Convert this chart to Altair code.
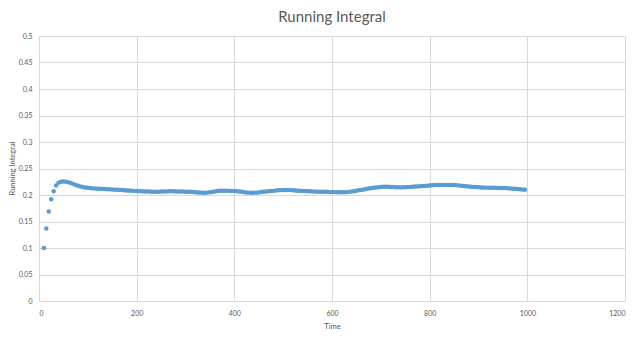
import altair as alt
import pandas as pd

time_start, time_step = 10, 5
running_integral = [
    0.100, 0.137, 0.169, 0.192, 0.207, 0.218, 0.223, 0.225, 0.2255, 0.225,
    0.224, 0.2225, 0.221, 0.219, 0.2175, 0.2162, 0.2152, 0.2143, 0.2136, 0.2130,
    0.2125, 0.2122, 0.2119, 0.2116, 0.2114, 0.2112, 0.2110, 0.2107, 0.2104, 0.2101,
    0.2098, 0.2095, 0.2093, 0.2090, 0.2087, 0.2084, 0.2081, 0.2078, 0.2075, 0.2073,
    0.2070, 0.2068, 0.2066, 0.2064, 0.2063, 0.2062, 0.2062, 0.2063, 0.2064, 0.2066,
    0.2068, 0.2070, 0.2070, 0.2069, 0.2068, 0.2067, 0.2066, 0.2065, 0.2063, 0.2062,
    0.2060, 0.2057, 0.2053, 0.2049, 0.2046, 0.2044, 0.2043, 0.2045, 0.2050, 0.2057,
    0.2066, 0.2074, 0.2080, 0.2082, 0.2082, 0.2080, 0.2078, 0.2076, 0.2075, 0.2071,
    0.2066, 0.2060, 0.2054, 0.2049, 0.2045, 0.2043, 0.2043, 0.2045, 0.2049, 0.2055,
    0.2061, 0.2066, 0.2070, 0.2074, 0.2078, 0.2083, 0.2088, 0.2092, 0.2094, 0.2095,
    0.2094, 0.2092, 0.2089, 0.2086, 0.2082, 0.2079, 0.2076, 0.2074, 0.2072, 0.2070,
    0.2067, 0.2065, 0.2063, 0.2062, 0.2062, 0.2061, 0.2060, 0.2058, 0.2056, 0.2054,
    0.2052, 0.2051, 0.2050, 0.2051, 0.2054, 0.2059, 0.2065, 0.2072, 0.2080, 0.2088,
    0.2096, 0.2105, 0.2113, 0.2121, 0.2128, 0.2135, 0.2142, 0.2148, 0.2153, 0.2156,
    0.2157, 0.2156, 0.2153, 0.2150, 0.2147, 0.2145, 0.2144, 0.2145, 0.2147, 0.2150,
    0.2153, 0.2156, 0.2159, 0.2162, 0.2165, 0.2168, 0.2172, 0.2176, 0.2180, 0.2184,
    0.2187, 0.2189, 0.2190, 0.2190, 0.2190, 0.2190, 0.2190, 0.2189, 0.2188, 0.2185,
    0.2181, 0.2176, 0.2170, 0.2165, 0.2160, 0.2156, 0.2152, 0.2149, 0.2146, 0.2143,
    0.2141, 0.2139, 0.2138, 0.2137, 0.2136, 0.2135, 0.2134, 0.2133, 0.2132, 0.2130,
    0.2127, 0.2124, 0.2120, 0.2116, 0.2112, 0.2108, 0.2104, 0.2100,
]
time = [time_start + time_step * i for i in range(len(running_integral))]

x_ticks = [0, 200, 400, 600, 800, 1000, 1200]
y_ticks = [0, 0.05, 0.1, 0.15, 0.2, 0.25, 0.3, 0.35, 0.4, 0.45, 0.5]

df = pd.DataFrame({"Time": time, "Running Integral": running_integral})

FONT = "Lato"
GREY = "#595959"
GRID = "#D9D9D9"

chart = (
    alt.Chart(df)
    .mark_circle(size=20, color="#5B9BD5", opacity=1)
    .encode(
        x=alt.X(
            "Time:Q",
            scale=alt.Scale(domain=[0, 1200], nice=False),
            axis=alt.Axis(
                values=x_ticks, format="d", title="Time", grid=True, gridColor=GRID,
                domain=True, domainColor=GRID, ticks=False, tickSize=0,
                labelPadding=8, labelFont=FONT, labelFontSize=7, labelColor=GREY,
                titleFont=FONT, titleFontSize=7.5, titleColor=GREY,
                titleFontWeight="normal", titleY=21, titleBaseline="top",
            ),
        ),
        y=alt.Y(
            "Running Integral:Q",
            scale=alt.Scale(domain=[0, 0.5], nice=False),
            axis=alt.Axis(
                values=y_ticks, format="~g", title="Running Integral", grid=True,
                gridColor=GRID, domain=False, ticks=False, tickSize=0,
                labelPadding=7, labelFont=FONT, labelFontSize=7, labelColor=GREY,
                titleFont=FONT, titleFontSize=7.5, titleColor=GREY,
                titleFontWeight="normal", titleX=-25, titleY=132,
                titleBaseline="alphabetic",
            ),
        ),
    )
    .properties(
        width=586,
        height=265,
        title=alt.TitleParams(
            "Running Integral", font=FONT, fontSize=15, color=GREY,
            fontWeight="normal", offset=7, anchor="middle",
        ),
        autosize=alt.AutoSizeParams(type="none"),
        padding={"left": 39, "top": 36, "right": 14, "bottom": 37},
        background="white",
    )
    .configure_view(stroke=None)
)

chart.save("out.html", embed_options={"renderer": "svg", "actions": False})
